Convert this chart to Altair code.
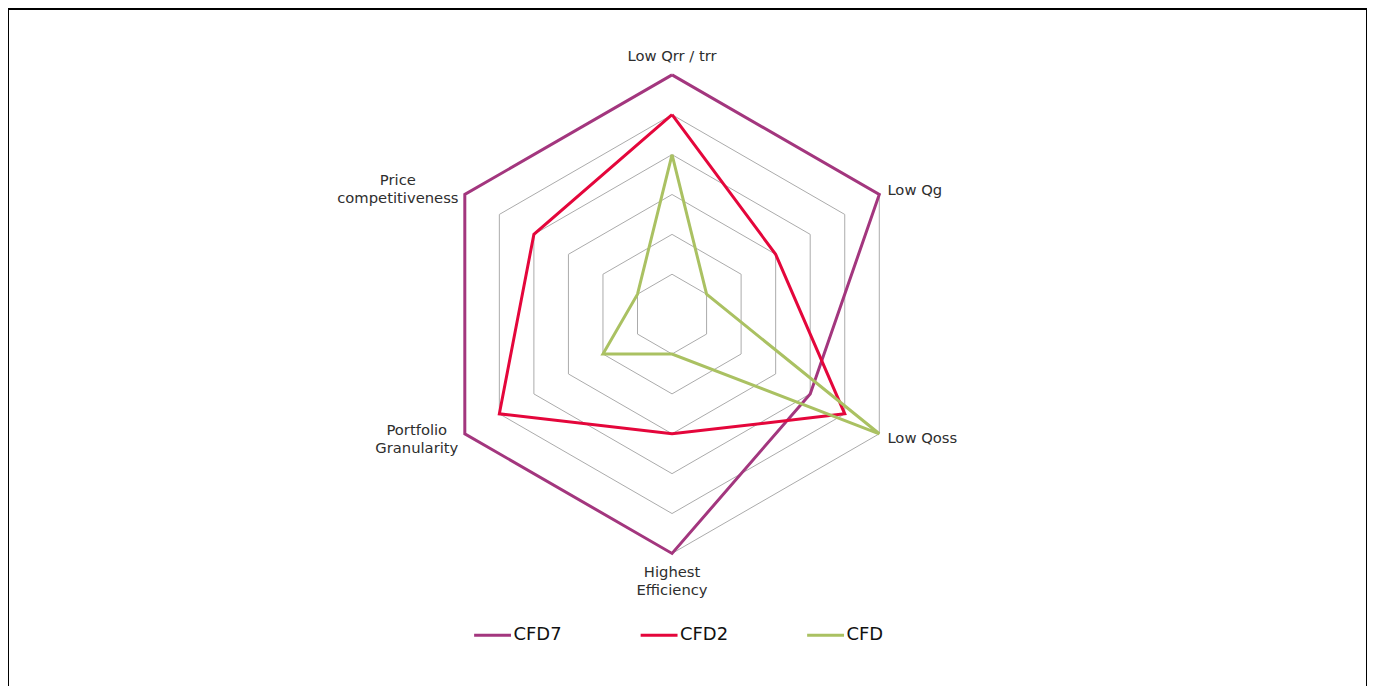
import math
import altair as alt
import pandas as pd

# ---- data ----
categories = ["Low Qrr / trr", "Low Qg", "Low Qoss", "Highest Efficiency",
              "Portfolio Granularity", "Price competitiveness"]
series_names = ["CFD7", "CFD2", "CFD"]
cfd7_values = [6, 6, 4, 6, 6, 6]
cfd2_values = [5, 3, 5, 3, 5, 4]
cfd_values = [4, 1, 6, 1, 2, 1]
series_colors = ["#A3367E", "#E4063B", "#AAC162"]
grid_levels = [1, 2, 3, 4, 5, 6]

n = len(categories)
values_by_series = {"CFD7": cfd7_values, "CFD2": cfd2_values, "CFD": cfd_values}


def polar(r, i):
    a = 2 * math.pi * (i % n) / n
    return r * math.sin(a), r * math.cos(a)


rows = []
for s in series_names:
    vals = values_by_series[s]
    for i in range(n + 1):
        x, y = polar(vals[i % n], i)
        rows.append({"series": s, "order": i, "x": x, "y": y})
series_df = pd.DataFrame(rows)

grid_rows = []
for lv in grid_levels:
    for i in range(n + 1):
        x, y = polar(lv, i)
        grid_rows.append({"level": lv, "order": i, "x": x, "y": y})
grid_df = pd.DataFrame(grid_rows)

# label placement (layout)
label_df = pd.DataFrame([
    {"text": "Low Qrr / trr", "x": 0.0, "y": 6.45, "align": "center"},
    {"text": "Low Qg", "x": 5.4, "y": 3.08, "align": "left"},
    {"text": "Low Qoss", "x": 5.4, "y": -3.12, "align": "left"},
    {"text": "Highest\nEfficiency", "x": 0.0, "y": -6.5, "align": "center"},
    {"text": "Portfolio\nGranularity", "x": -6.4, "y": -2.92, "align": "center"},
    {"text": "Price\ncompetitiveness", "x": -6.875, "y": 3.33, "align": "center"},
])

W, H = 1363, 700
CX, CY = 666, 306
UNIT = 40.0
xscale = alt.Scale(domain=[-CX / UNIT, (W - CX) / UNIT], nice=False, zero=False)
yscale = alt.Scale(domain=[-(H - CY) / UNIT, CY / UNIT], nice=False, zero=False)

color_scale = alt.Scale(domain=series_names, range=series_colors)

grid = alt.Chart(grid_df).mark_line(color="#ABABAB", strokeWidth=1).encode(
    x=alt.X("x:Q", scale=xscale, axis=None),
    y=alt.Y("y:Q", scale=yscale, axis=None),
    detail="level:N",
    order="order:Q",
)

legend = alt.Legend(
    title=None, orient="none", direction="horizontal",
    legendX=466, legendY=608,
    symbolType="stroke", symbolSize=1369, symbolStrokeWidth=3,
    labelFontSize=18, labelFont="DejaVu Sans", labelColor="#111111",
    labelOffset=1, columnPadding=72, labelLimit=200,
)

layers = [grid]
for s in series_names:
    lc = alt.Chart(series_df).transform_filter(
        alt.datum.series == s
    ).mark_line(strokeWidth=3, strokeJoin="miter").encode(
        x=alt.X("x:Q", scale=xscale, axis=None),
        y=alt.Y("y:Q", scale=yscale, axis=None),
        order="order:Q",
        color=alt.Color("series:N", scale=color_scale, sort=series_names, legend=legend),
    )
    layers.append(lc)

FS = 14.8
left_labels = alt.Chart(label_df[label_df["align"] == "left"]).mark_text(
    font="DejaVu Sans", fontSize=FS, color="#2E2E2E", baseline="middle", align="left",
).encode(
    x=alt.X("x:Q", scale=xscale, axis=None),
    y=alt.Y("y:Q", scale=yscale, axis=None),
    text="text:N",
)
center_labels = alt.Chart(label_df[label_df["align"] == "center"]).mark_text(
    font="DejaVu Sans", fontSize=FS, color="#2E2E2E", baseline="middle", align="center",
    lineBreak="\n", lineHeight=18,
).encode(
    x=alt.X("x:Q", scale=xscale, axis=None),
    y=alt.Y("y:Q", scale=yscale, axis=None),
    text="text:N",
)
layers += [left_labels, center_labels]

chart = alt.layer(*layers).properties(
    width=W, height=H, padding=0, autosize=alt.AutoSizeParams(type="none"),
    background="white",
).configure_view(stroke="black", strokeWidth=2)

chart.save("out.html", embed_options={"renderer": "svg", "actions": False})
